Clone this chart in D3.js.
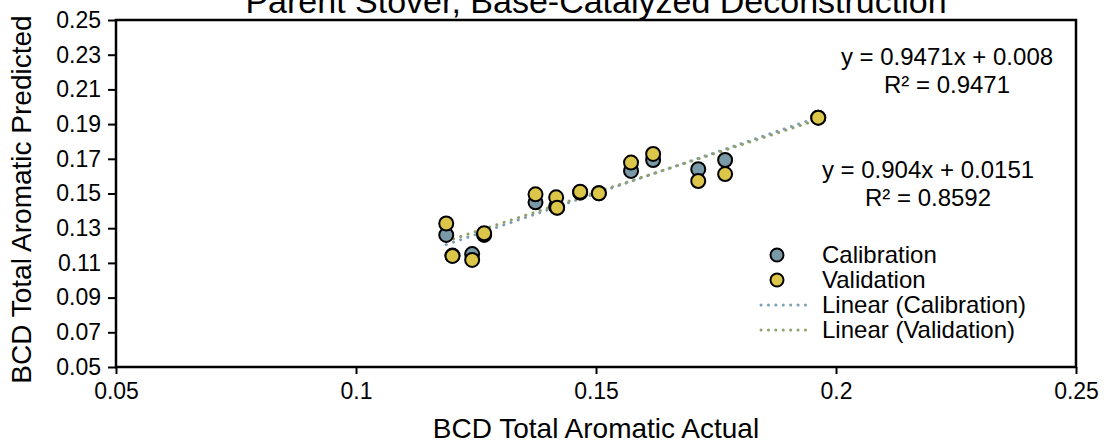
<!DOCTYPE html>
<html>
<head>
<meta charset="utf-8">
<script src="https://cdn.jsdelivr.net/npm/d3@7"></script>
<style>
  html, body { margin: 0; padding: 0; background: #ffffff; }
  svg { display: block; font-family: "Liberation Sans", Arial, sans-serif; }
</style>
</head>
<body>
<svg id="chart" width="1104" height="443"></svg>
<script>
// Actual vs predicted total aromatic content
const actualX = [0.1188, 0.1201, 0.1242, 0.1267, 0.1374, 0.1417, 0.1419, 0.1467, 0.1506, 0.1573, 0.1619, 0.1713, 0.1769, 0.1963];
const calibrationY = [0.1261, 0.1142, 0.1151, 0.1261, 0.1449, 0.1425, 0.1420, 0.1505, 0.1502, 0.1630, 0.1693, 0.1640, 0.1693, 0.1937];
const validationY = [0.1327, 0.1140, 0.1117, 0.1271, 0.1495, 0.1478, 0.1418, 0.1510, 0.1501, 0.1678, 0.1728, 0.1572, 0.1612, 0.1937];

// Linear trendlines (slope, intercept, R²)
const calibrationFit = [0.9471, 0.008, 0.9471];
const validationFit = [0.904, 0.0151, 0.8592];

const xTicks = [0.05, 0.1, 0.15, 0.2, 0.25];
const yTicks = [0.05, 0.07, 0.09, 0.11, 0.13, 0.15, 0.17, 0.19, 0.21, 0.23, 0.25];

const titleText = "Parent Stover, Base-Catalyzed Deconstruction";
const xTitle = "BCD Total Aromatic Actual";
const yTitle = "BCD Total Aromatic Predicted";
const legendLabels = ["Calibration", "Validation", "Linear (Calibration)", "Linear (Validation)"];

const calFill = "#7b9aa8", valFill = "#dcc64a";
const calLine = "#7f9fb2", valLine = "#8fa26c";

const svg = d3.select("#chart");
const plot = { left: 116, right: 1076, top: 20, bottom: 367 };

const x = d3.scaleLinear().domain([0.05, 0.25]).range([plot.left, plot.right]);
const y = d3.scaleLinear().domain([0.05, 0.25]).range([plot.bottom, plot.top]);

// Title (runs off the top of the canvas)
svg.append("text")
  .attr("x", (plot.left + plot.right) / 2)
  .attr("y", 13)
  .attr("text-anchor", "middle")
  .attr("font-size", 34)
  .attr("fill", "#000")
  .text(titleText);

// Axes
const xAxis = d3.axisBottom(x).tickValues(xTicks).tickSize(7).tickPadding(9)
  .tickFormat(d => String(d));
const yAxis = d3.axisLeft(y).tickValues(yTicks).tickSize(8).tickPadding(7)
  .tickFormat(d3.format(".2f"));

const gx = svg.append("g").attr("transform", `translate(0,${plot.bottom})`).call(xAxis);
const gy = svg.append("g").attr("transform", `translate(${plot.left},0)`).call(yAxis);
[gx, gy].forEach(g => {
  g.select(".domain").remove();
  g.selectAll(".tick line").attr("stroke", "#000").attr("stroke-width", 2);
  g.selectAll(".tick text").attr("font-size", 23).attr("fill", "#000")
    .attr("font-family", "Liberation Sans, Arial, sans-serif");
});

// Plot frame
svg.append("rect")
  .attr("x", plot.left).attr("y", plot.top)
  .attr("width", plot.right - plot.left).attr("height", plot.bottom - plot.top)
  .attr("fill", "none").attr("stroke", "#000").attr("stroke-width", 2.5);

// Axis titles
svg.append("text")
  .attr("x", (plot.left + plot.right) / 2).attr("y", 438)
  .attr("text-anchor", "middle").attr("font-size", 28).text(xTitle);
svg.append("text")
  .attr("transform", `translate(31,${(plot.top + plot.bottom) / 2 + 6}) rotate(-90)`)
  .attr("text-anchor", "middle").attr("font-size", 28).text(yTitle);

// Trendlines over the range of the data
const [xMin, xMax] = d3.extent(actualX);
function trend(fit, color) {
  const pts = [xMin, xMax].map(v => [x(v), y(fit[0] * v + fit[1])]);
  svg.append("path")
    .attr("d", d3.line()(pts))
    .attr("fill", "none").attr("stroke", color)
    .attr("stroke-width", 3).attr("stroke-linecap", "round")
    .attr("stroke-dasharray", "0.1 7.5");
}
trend(calibrationFit, calLine);
trend(validationFit, valLine);

// Points
function points(vals, fill) {
  svg.append("g").selectAll("circle")
    .data(actualX.map((v, i) => [v, vals[i]]))
    .join("circle")
    .attr("cx", d => x(d[0])).attr("cy", d => y(d[1]))
    .attr("r", 7).attr("fill", fill)
    .attr("stroke", "#000").attr("stroke-width", 2);
}
points(calibrationY, calFill);
points(validationY, valFill);

// Trendline equations
const fmt = v => String(v);
function equation(fit, cx, cy) {
  const t = svg.append("text").attr("text-anchor", "middle").attr("font-size", 24);
  t.append("tspan").attr("x", cx).attr("y", cy)
    .text(`y = ${fmt(fit[0])}x + ${fmt(fit[1])}`);
  t.append("tspan").attr("x", cx).attr("y", cy + 28)
    .text(`R² = ${fmt(fit[2])}`);
}
equation(calibrationFit, 947, 65);
equation(validationFit, 928, 178);

// Legend
const legend = svg.append("g");
const rowY = [255, 280, 305, 330];
legend.append("circle").attr("cx", 777).attr("cy", rowY[0]).attr("r", 6.5)
  .attr("fill", calFill).attr("stroke", "#000").attr("stroke-width", 2);
legend.append("circle").attr("cx", 777).attr("cy", rowY[1]).attr("r", 6.5)
  .attr("fill", valFill).attr("stroke", "#000").attr("stroke-width", 2);
[[calLine, rowY[2]], [valLine, rowY[3]]].forEach(([c, yy]) => {
  legend.append("line").attr("x1", 761).attr("x2", 812).attr("y1", yy).attr("y2", yy)
    .attr("stroke", c).attr("stroke-width", 3).attr("stroke-linecap", "round")
    .attr("stroke-dasharray", "0.1 7.3");
});
legendLabels.forEach((s, i) => {
  legend.append("text").attr("x", 822).attr("y", rowY[i]).attr("dy", "0.35em")
    .attr("font-size", 24).text(s);
});
</script>
</body>
</html>
